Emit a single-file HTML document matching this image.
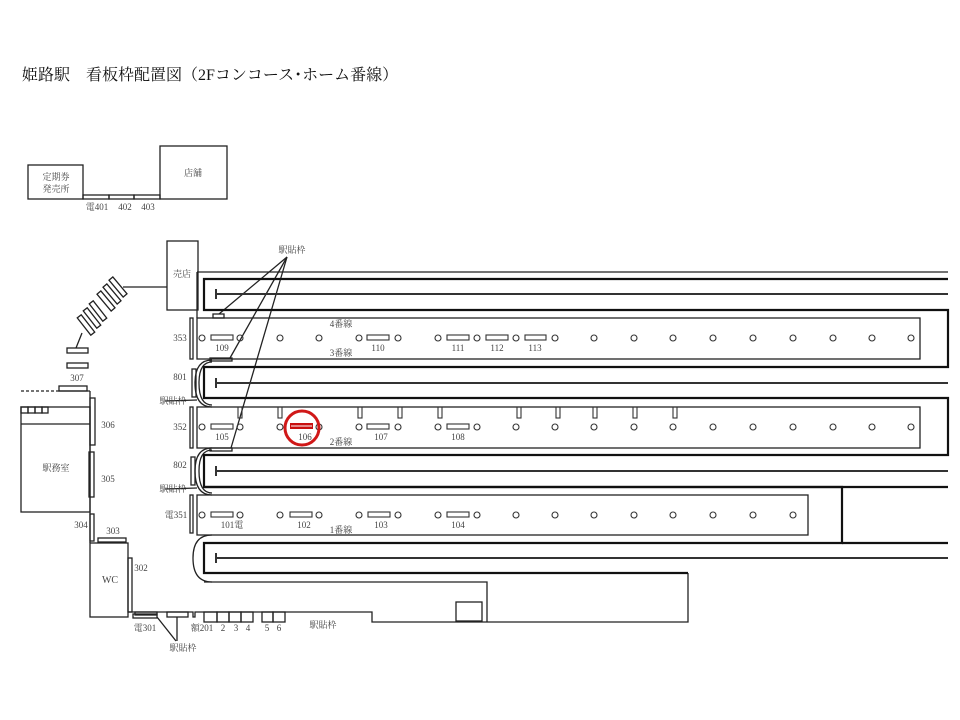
<!DOCTYPE html>
<html><head><meta charset="utf-8"><style>
html,body{margin:0;padding:0;background:#fff;width:960px;height:720px;overflow:hidden}
svg text{font-family:"Liberation Serif","Noto Serif CJK JP",serif;fill:#444}
</style></head><body>
<svg width="960" height="720" viewBox="0 0 960 720" xmlns="http://www.w3.org/2000/svg">
<text x="22" y="80" font-size="16" style="fill:#111">姫路駅　看板枠配置図（2Fコンコース･ホーム番線）</text>
<g fill="none" stroke="#222" stroke-width="1.3">
<rect x="28" y="165" width="55" height="34"/>
<rect x="160" y="146" width="67" height="53"/>
<rect x="83" y="195" width="26" height="4"/><rect x="109" y="195" width="25" height="4"/><rect x="134" y="195" width="26" height="4"/>
<rect x="167" y="241" width="31" height="69"/>
<line x1="123" y1="287" x2="167" y2="287"/>
<g transform="translate(118,287) rotate(50)"><rect x="-11" y="-2.5" width="22" height="5"/></g>
<g transform="translate(112,294) rotate(50)"><rect x="-11" y="-2.5" width="22" height="5"/></g>
<g transform="translate(106,301) rotate(50)"><rect x="-11" y="-2.5" width="22" height="5"/></g>
<g transform="translate(98,311) rotate(52)"><rect x="-11" y="-2.5" width="22" height="5"/></g>
<g transform="translate(92,318) rotate(52)"><rect x="-11" y="-2.5" width="22" height="5"/></g>
<g transform="translate(86,325) rotate(52)"><rect x="-11" y="-2.5" width="22" height="5"/></g>
<line x1="82" y1="333" x2="76" y2="348"/>
<rect x="67" y="348" width="21" height="5"/><rect x="67" y="363" width="21" height="5"/>
<line x1="21" y1="391" x2="59" y2="391" stroke-dasharray="3,2"/>
<rect x="59" y="386" width="28" height="5"/>
<line x1="59" y1="391" x2="90" y2="391"/>
<line x1="90" y1="391" x2="90" y2="543"/>
<rect x="21" y="407" width="69" height="105"/>
<line x1="21" y1="424" x2="90" y2="424"/>
<rect x="21" y="407" width="7" height="6"/><rect x="28" y="407" width="7" height="6"/><rect x="35" y="407" width="7" height="6"/><rect x="42" y="407" width="6" height="6"/>
<rect x="90" y="398" width="5" height="47"/>
<rect x="89" y="452" width="5" height="45"/>
<rect x="90" y="514" width="4" height="27"/>
<rect x="98" y="538" width="28" height="4"/>
<rect x="90" y="543" width="38" height="74"/>
<rect x="128" y="558" width="4" height="54"/>
<rect x="133" y="614" width="24" height="4"/><rect x="135" y="612" width="22" height="3"/>
<rect x="167" y="612" width="21" height="5"/>
<polyline points="128,612 193,612 193,617 195,617 195,612 372,612 372,622 688,622 688,573"/>
<rect x="204" y="612" width="13" height="10"/><rect x="217" y="612" width="12" height="10"/><rect x="229" y="612" width="12" height="10"/><rect x="241" y="612" width="12" height="10"/>
<rect x="262" y="612" width="11" height="10"/><rect x="273" y="612" width="12" height="10"/>
<line x1="157" y1="617" x2="176" y2="641"/><line x1="177" y1="617" x2="177" y2="641"/>
<rect x="456" y="602" width="26" height="19"/>
<polyline points="204,582 487,582 487,622"/>
<line x1="287" y1="257" x2="219" y2="314"/>
<line x1="287" y1="257" x2="230" y2="358"/>
<line x1="287" y1="257" x2="231" y2="448"/>
<line x1="165" y1="401" x2="197" y2="400"/>
<line x1="165" y1="489" x2="197" y2="488"/>
<line x1="197" y1="272" x2="948" y2="272"/>
<line x1="197" y1="272" x2="197" y2="318"/>
<rect x="213" y="314" width="11" height="4"/>
<rect x="197" y="318" width="723" height="41"/>
<rect x="210" y="358" width="22" height="3"/>
<rect x="197" y="407" width="723" height="41"/>
<rect x="210" y="448" width="22" height="3"/>
<rect x="197" y="495" width="611" height="40"/>
<rect x="190" y="318" width="3" height="41"/>
<rect x="192" y="369" width="4" height="28"/>
<rect x="190" y="407" width="3" height="41"/>
<rect x="191" y="457" width="4" height="28"/>
<rect x="190" y="495" width="3" height="38"/>
<path d="M212 360 Q195 360 195 383 Q195 407 212 407"/>
<path d="M212 362 Q199 362 199 383 Q199 405 212 405"/>
<path d="M212 448 Q195 448 195 471 Q195 495 212 495"/>
<path d="M212 450 Q199 450 199 471 Q199 493 212 493"/>
<path d="M212 535 Q193 535 193 558 Q193 582 212 582"/>
</g>
<g fill="none" stroke="#111" stroke-width="2.2">
<polyline points="948,279 204,279 204,310 948,310 948,367 204,367 204,398 948,398 948,455 204,455 204,487 842,487 842,543 204,543 204,573 688,573"/>
<line x1="842" y1="543" x2="948" y2="543"/>
<line x1="204" y1="487" x2="948" y2="487"/>
</g>
<g stroke="#333" stroke-width="2">
<line x1="216" y1="294" x2="948" y2="294"/><line x1="216" y1="289" x2="216" y2="299"/>
<line x1="216" y1="383" x2="948" y2="383"/><line x1="216" y1="378" x2="216" y2="388"/>
<line x1="216" y1="471" x2="948" y2="471"/><line x1="216" y1="466" x2="216" y2="476"/>
<line x1="216" y1="558" x2="948" y2="558"/><line x1="216" y1="553" x2="216" y2="563"/>
</g>
<g fill="none" stroke="#333" stroke-width="1.1">
<circle cx="202" cy="338" r="3"/><circle cx="240" cy="338" r="3"/><circle cx="280" cy="338" r="3"/><circle cx="319" cy="338" r="3"/><circle cx="359" cy="338" r="3"/><circle cx="398" cy="338" r="3"/><circle cx="438" cy="338" r="3"/><circle cx="477" cy="338" r="3"/><circle cx="516" cy="338" r="3"/><circle cx="555" cy="338" r="3"/><circle cx="594" cy="338" r="3"/><circle cx="634" cy="338" r="3"/><circle cx="673" cy="338" r="3"/><circle cx="713" cy="338" r="3"/><circle cx="753" cy="338" r="3"/><circle cx="793" cy="338" r="3"/><circle cx="833" cy="338" r="3"/><circle cx="872" cy="338" r="3"/><circle cx="911" cy="338" r="3"/>
<rect x="211" y="335" width="22" height="5"/><rect x="367" y="335" width="22" height="5"/><rect x="447" y="335" width="22" height="5"/><rect x="486" y="335" width="22" height="5"/><rect x="525" y="335" width="21" height="5"/>
<circle cx="202" cy="427" r="3"/><circle cx="240" cy="427" r="3"/><circle cx="280" cy="427" r="3"/><circle cx="319" cy="427" r="3"/><circle cx="359" cy="427" r="3"/><circle cx="398" cy="427" r="3"/><circle cx="438" cy="427" r="3"/><circle cx="477" cy="427" r="3"/><circle cx="516" cy="427" r="3"/><circle cx="555" cy="427" r="3"/><circle cx="594" cy="427" r="3"/><circle cx="634" cy="427" r="3"/><circle cx="673" cy="427" r="3"/><circle cx="713" cy="427" r="3"/><circle cx="753" cy="427" r="3"/><circle cx="793" cy="427" r="3"/><circle cx="833" cy="427" r="3"/><circle cx="872" cy="427" r="3"/><circle cx="911" cy="427" r="3"/>
<rect x="211" y="424" width="22" height="5"/><rect x="367" y="424" width="22" height="5"/><rect x="447" y="424" width="22" height="5"/>
<rect x="238" y="407" width="4" height="11"/><rect x="278" y="407" width="4" height="11"/><rect x="358" y="407" width="4" height="11"/><rect x="398" y="407" width="4" height="11"/><rect x="438" y="407" width="4" height="11"/><rect x="517" y="407" width="4" height="11"/><rect x="556" y="407" width="4" height="11"/><rect x="593" y="407" width="4" height="11"/><rect x="633" y="407" width="4" height="11"/><rect x="673" y="407" width="4" height="11"/>
<circle cx="202" cy="515" r="3"/><circle cx="240" cy="515" r="3"/><circle cx="280" cy="515" r="3"/><circle cx="319" cy="515" r="3"/><circle cx="359" cy="515" r="3"/><circle cx="398" cy="515" r="3"/><circle cx="438" cy="515" r="3"/><circle cx="477" cy="515" r="3"/><circle cx="516" cy="515" r="3"/><circle cx="555" cy="515" r="3"/><circle cx="594" cy="515" r="3"/><circle cx="634" cy="515" r="3"/><circle cx="673" cy="515" r="3"/><circle cx="713" cy="515" r="3"/><circle cx="753" cy="515" r="3"/><circle cx="793" cy="515" r="3"/>
<rect x="211" y="512" width="22" height="5"/><rect x="290" y="512" width="22" height="5"/><rect x="368" y="512" width="22" height="5"/><rect x="447" y="512" width="22" height="5"/>
</g>
<circle cx="302" cy="428" r="17" fill="none" stroke="#d01818" stroke-width="3"/>
<rect x="290" y="423" width="23" height="6" fill="#c81010"/>
<line x1="291" y1="426" x2="312" y2="426" stroke="#fff" stroke-width="1"/>
<g font-size="9" text-anchor="middle">
<text x="56" y="180">定期券</text><text x="56" y="192">発売所</text>
<text x="193" y="176">店舗</text>
<text x="97" y="210">電401</text><text x="125" y="210">402</text><text x="148" y="210">403</text>
<text x="182" y="277">売店</text>
<text x="292" y="253">駅貼枠</text>
<text x="77" y="381">307</text>
<text x="108" y="428">306</text>
<text x="56" y="471">駅務室</text>
<text x="108" y="482">305</text>
<text x="81" y="528">304</text>
<text x="113" y="534">303</text>
<text x="141" y="571">302</text>
<text x="110" y="583" font-size="10">WC</text>
<text x="145" y="631">電301</text>
<text x="183" y="651">駅貼枠</text>
<text x="202" y="631">額201</text><text x="223" y="631">2</text><text x="236" y="631">3</text><text x="248" y="631">4</text><text x="267" y="631">5</text><text x="279" y="631">6</text>
<text x="323" y="628">駅貼枠</text>
<text x="180" y="341">353</text><text x="180" y="380">801</text><text x="173" y="404">駅貼枠</text>
<text x="180" y="430">352</text><text x="180" y="468">802</text><text x="173" y="492">駅貼枠</text>
<text x="176" y="518">電351</text>
<text x="341" y="327">4番線</text><text x="341" y="356">3番線</text><text x="341" y="445">2番線</text><text x="341" y="533">1番線</text>
<text x="222" y="351">109</text><text x="378" y="351">110</text><text x="458" y="351">111</text><text x="497" y="351">112</text><text x="535" y="351">113</text>
<text x="222" y="440">105</text><text x="305" y="440">106</text><text x="381" y="440">107</text><text x="458" y="440">108</text>
<text x="232" y="528">101電</text><text x="304" y="528">102</text><text x="381" y="528">103</text><text x="458" y="528">104</text>
</g>
</svg>
</body></html>
